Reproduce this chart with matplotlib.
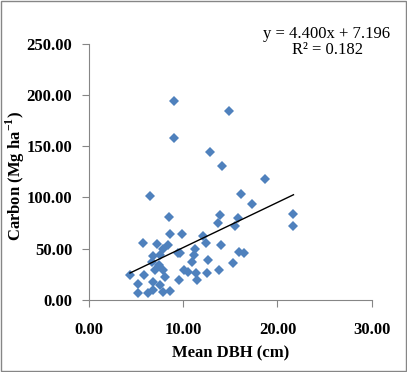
import matplotlib.pyplot as plt
from matplotlib.ticker import FormatStrFormatter

plt.rcParams['font.family'] = ['Liberation Serif', 'DejaVu Serif']
plt.rcParams['mathtext.fontset'] = 'custom'
plt.rcParams['mathtext.rm'] = 'Liberation Serif'
plt.rcParams['mathtext.bf'] = 'Liberation Serif:bold'

# Mean DBH (cm) vs carbon stock (Mg ha-1)
dbh = [9.05, 14.86, 9.06, 12.8, 14.1, 6.5, 16.1, 17.3, 18.7, 21.7, 21.6,
       8.5, 13.9, 13.7, 15.8, 15.5, 8.6, 9.9, 12.1, 5.7, 7.25, 12.4, 14.0,
       8.4, 9.7, 11.25, 11.1, 10.9, 12.6, 15.9, 16.5, 15.25, 13.8, 10.5,
       11.4, 12.5, 11.5, 9.5, 8.6, 7.9, 6.8, 7.5, 6.65, 7.4, 7.0, 7.9,
       4.35, 5.8, 6.8, 8.1, 5.2, 7.5, 7.9, 5.2, 6.3, 6.8, 10.1, 9.4]
carbon = [194, 184, 158, 144, 131, 101, 103, 94, 118, 84, 72,
          81, 83, 75, 80, 72, 64, 64, 62, 56, 55, 56, 54,
          53.6, 46, 50, 44, 37, 39, 47, 46, 36, 29, 27.6,
          26, 26, 20, 19.5, 9, 50, 43, 44, 37, 34, 29, 29,
          24.4, 24.4, 17.8, 22.7, 16, 14.6, 8, 6.5, 6.5, 9.7, 29, 46]

slope, intercept, r2 = 4.400, 7.196, 0.182

fig = plt.figure(figsize=(4.07, 3.72), dpi=100)
ax = fig.add_axes([0.2187, 0.1935, 0.6945, 0.689])

ax.plot(dbh, carbon, linestyle='none', marker='D', markersize=5.3,
        color='#4F81BD', markeredgewidth=0)

xs = [min(dbh), max(dbh)]
ax.plot(xs, [slope * x + intercept for x in xs], color='black', lw=1)

ax.set_xlim(0, 30)
ax.set_ylim(0, 250)
ax.set_xticks([0, 10, 20, 30])
ax.set_yticks([0, 50, 100, 150, 200, 250])
ax.xaxis.set_major_formatter(FormatStrFormatter('%.2f'))
ax.yaxis.set_major_formatter(FormatStrFormatter('%.2f'))

for s in ['top', 'right']:
    ax.spines[s].set_visible(False)
for s in ['left', 'bottom']:
    ax.spines[s].set_color('#868686')
ax.tick_params(direction='out', length=5, color='#868686', labelsize=12)
ax.tick_params(axis='x', pad=11)
ax.tick_params(axis='y', pad=7)
for lab in ax.get_xticklabels() + ax.get_yticklabels():
    lab.set_fontweight('bold')

ax.set_xlabel('Mean DBH (cm)', fontsize=12, fontweight='bold')
ax.set_ylabel(r'Carbon (Mg ha$^{\mathbf{-1}}$)', fontsize=12,
              fontweight='bold')
ax.xaxis.set_label_coords(0.5, -0.178)
ax.yaxis.set_label_coords(-0.22, 0.485)

fig.text(327 / 407, 1 - 34 / 372, f'y = {slope:.3f}x + {intercept:.3f}',
         ha='center', va='center', fontsize=12)
fig.text(327 / 407, 1 - 50 / 372, f'R² = {r2:.3f}',
         ha='center', va='center', fontsize=12)

fig.patches.append(plt.Rectangle((0.002, 0.002), 0.996, 0.995, fill=False,
                                 edgecolor='#868686', lw=1,
                                 transform=fig.transFigure))

fig.savefig('out.png', dpi=100)
